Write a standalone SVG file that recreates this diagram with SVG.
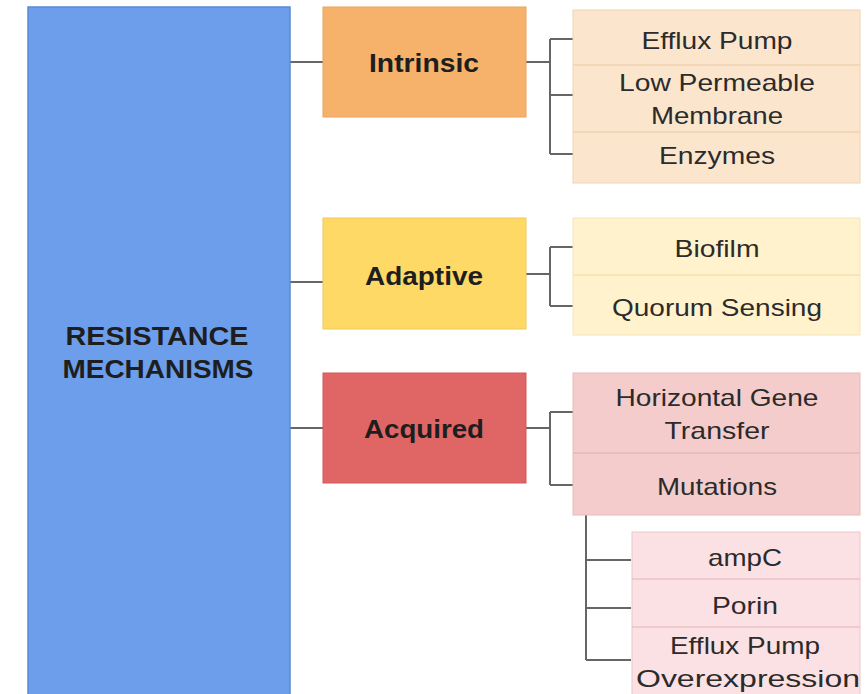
<svg xmlns="http://www.w3.org/2000/svg" width="866" height="694" viewBox="0 0 866 694">
<style>
.lbl{font-family:"Liberation Sans",Arial,sans-serif;font-size:24px;fill:#2b2b2b;text-anchor:middle}
.bold{font-family:"Liberation Sans",Arial,sans-serif;font-size:26px;font-weight:bold;fill:#1e1e1e;text-anchor:middle}
.conn{stroke:#666;stroke-width:2;fill:none}
</style>
<rect width="866" height="694" fill="#ffffff"/>
<g id="connectors">
<path class="conn" d="M290 62H323M526 62H550M550 39V154M550 39H573M550 95H573M550 154H573"/>
<path class="conn" d="M290 282H323M526 274H550M550 247V306M550 247H573M550 306H573"/>
<path class="conn" d="M290 428H323M526 428H550M550 412V485M550 412H573M550 485H573"/>
<path class="conn" d="M586 515V660M586 560H631M586 608H631M586 660H631"/>
</g>
<g id="resistance">
<rect x="28" y="7" width="262" height="690" fill="#6d9eeb" stroke="#5a8ad6" stroke-width="1.5"/>
<text class="bold" x="157" y="345" textLength="183" lengthAdjust="spacingAndGlyphs">RESISTANCE</text>
<text class="bold" x="158" y="378" textLength="191" lengthAdjust="spacingAndGlyphs">MECHANISMS</text>
</g>
<g id="intrinsic">
<rect x="323" y="7" width="203" height="110" fill="#f6b26b" stroke="#e9a45c"/>
<text class="bold" x="424" y="72" textLength="110" lengthAdjust="spacingAndGlyphs">Intrinsic</text>
</g>
<g id="intrinsic-items">
<rect x="573" y="10" width="287" height="173" fill="#fce5cd" stroke="#f0d3b4"/>
<path d="M573 65H860M573 132H860" stroke="#efd2b2" stroke-width="1.5"/>
<text class="lbl" x="717" y="49" textLength="151" lengthAdjust="spacingAndGlyphs">Efflux Pump</text>
<text class="lbl" x="717" y="91" textLength="196" lengthAdjust="spacingAndGlyphs">Low Permeable</text>
<text class="lbl" x="717" y="124" textLength="132" lengthAdjust="spacingAndGlyphs">Membrane</text>
<text class="lbl" x="717" y="164" textLength="116" lengthAdjust="spacingAndGlyphs">Enzymes</text>
</g>
<g id="adaptive">
<rect x="323" y="218" width="203" height="111" fill="#ffd966" stroke="#f0ca58"/>
<text class="bold" x="424" y="285" textLength="118" lengthAdjust="spacingAndGlyphs">Adaptive</text>
</g>
<g id="adaptive-items">
<rect x="573" y="218" width="287" height="117" fill="#fff2cc" stroke="#f3e5bb"/>
<path d="M573 275H860" stroke="#f3e3b5" stroke-width="1.5"/>
<text class="lbl" x="717" y="257" textLength="85" lengthAdjust="spacingAndGlyphs">Biofilm</text>
<text class="lbl" x="717" y="316" textLength="210" lengthAdjust="spacingAndGlyphs">Quorum Sensing</text>
</g>
<g id="acquired">
<rect x="323" y="373" width="203" height="110" fill="#e06666" stroke="#cf5858"/>
<text class="bold" x="424" y="438" textLength="120" lengthAdjust="spacingAndGlyphs">Acquired</text>
</g>
<g id="acquired-items">
<rect x="573" y="373" width="287" height="142" fill="#f4cccc" stroke="#e6baba"/>
<path d="M573 453H860" stroke="#e4b8b8" stroke-width="1.5"/>
<text class="lbl" x="717" y="406" textLength="203" lengthAdjust="spacingAndGlyphs">Horizontal Gene</text>
<text class="lbl" x="717" y="439" textLength="105" lengthAdjust="spacingAndGlyphs">Transfer</text>
<text class="lbl" x="717" y="495" textLength="120" lengthAdjust="spacingAndGlyphs">Mutations</text>
</g>
<g id="mutation-items">
<rect x="632" y="532" width="228" height="165" fill="#fbe1e3" stroke="#ecc8ca"/>
<path d="M632 579H860M632 627H860" stroke="#ebc3c5" stroke-width="1.5"/>
<text class="lbl" x="745" y="566" textLength="74" lengthAdjust="spacingAndGlyphs">ampC</text>
<text class="lbl" x="745" y="614" textLength="66" lengthAdjust="spacingAndGlyphs">Porin</text>
<text class="lbl" x="745" y="654" textLength="150" lengthAdjust="spacingAndGlyphs">Efflux Pump</text>
<text class="lbl" x="748" y="687" textLength="224" lengthAdjust="spacingAndGlyphs">Overexpression</text>
</g>
</svg>
